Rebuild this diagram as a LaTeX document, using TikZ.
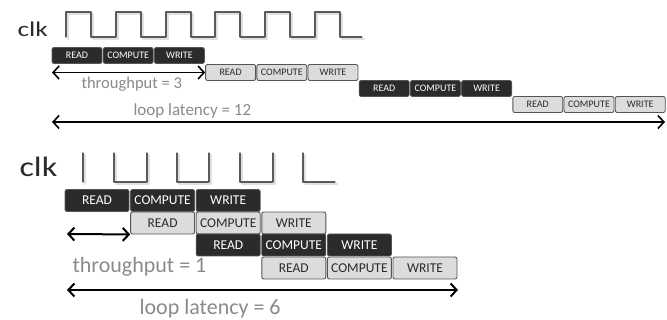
\documentclass[tikz,border=0pt]{standalone}
\usepackage{fontspec}
\setmainfont{Carlito}
\usetikzlibrary{arrows.meta}
\definecolor{boxdark}{HTML}{2B2B2B}
\definecolor{boxlight}{HTML}{DCDCDC}
\definecolor{edgegray}{HTML}{555555}
\definecolor{labelgray}{HTML}{8A8A8A}
\definecolor{clkgray}{HTML}{5A5A5A}
\tikzset{
	rd/.style={draw=edgegray, fill=boxdark, text=white, rounded corners=2pt, line width=0.8pt, inner sep=0pt},
	lt/.style={draw=edgegray, fill=boxlight, text=boxdark, rounded corners=2pt, line width=0.9pt, inner sep=0pt},
	small/.style={minimum width=50pt, minimum height=16pt, font=\fontsize{10}{10}\selectfont},
	big/.style={minimum width=64pt, minimum height=22pt, font=\fontsize{13.5}{13.5}\selectfont},
	wave/.style={draw=clkgray, line width=1.3pt},
	shade/.style={draw=black!12, line width=2.5pt},
	span/.style={<->, line width=1.6pt, >={Straight Barb[length=6pt, width=13pt]}}
}
\begin{document}
\begin{tikzpicture}[x=1pt, y=-1pt, line join = round, line cap = round]
	\useasboundingbox (0,0) rectangle (667,320);
	% top: one loop after another
	\node[text=boxdark, anchor=base west, font=\fontsize{21}{21}\selectfont] (clkA) at (14,37) {\scalebox{1.3}[1]{clk}};
	\draw[shade] (68,39) -- (68,14) -- (93,14) -- (93,39) -- (118,39) -- (118,14) -- (143,14) -- (143,39) -- (168,39) -- (168,14) -- (193,14) -- (193,39) -- (217,39) -- (217,14) -- (242,14) -- (242,39) -- (267,39) -- (267,14) -- (292,14) -- (292,39) -- (317,39) -- (317,14) -- (342,14) -- (342,39) -- (364,39);
	\draw[wave] (66,37) -- (66,12) -- (91,12) -- (91,37) -- (116,37) -- (116,12) -- (141,12) -- (141,37) -- (166,37) -- (166,12) -- (191,12) -- (191,37) -- (215,37) -- (215,12) -- (240,12) -- (240,37) -- (265,37) -- (265,12) -- (290,12) -- (290,37) -- (315,37) -- (315,12) -- (340,12) -- (340,37) -- (362,37);
	
	\node[rd, small] (TR1) at (77,55.5) {READ};
	\node[rd, small] (TC1) at (128.2,55.5) {COMPUTE};
	\node[rd, small] (TW1) at (179.4,55.5) {WRITE};
	\node[lt, small] (TR2) at (230.6,72.5) {READ};
	\node[lt, small] (TC2) at (281.8,72.5) {COMPUTE};
	\node[lt, small] (TW2) at (333,72.5) {WRITE};
	\node[rd, small] (TR3) at (384.2,88.5) {READ};
	\node[rd, small] (TC3) at (435.4,88.5) {COMPUTE};
	\node[rd, small] (TW3) at (486.6,88.5) {WRITE};
	\node[lt, small] (TR4) at (537.8,104.5) {READ};
	\node[lt, small] (TC4) at (589,104.5) {COMPUTE};
	\node[lt, small] (TW4) at (640.2,104.5) {WRITE};
	
	\coordinate (tpA) at (52,72.5);
	\coordinate (llA) at (52,122);
	\coordinate (llB) at (665,122);
	\draw[span] (tpA) -- (TR2.west);
	\draw[span] (llA) -- (llB);
	\node[text=labelgray, anchor=base west, font=\fontsize{16.5}{16.5}\selectfont] (tpTextA) at (78,89) {throughput = 3};
	\node[text=labelgray, anchor=base west, font=\fontsize{17}{17}\selectfont] (llTextA) at (130,116) {loop latency = 12};
	
	% bottom: pipelined loop
	\node[text=boxdark, anchor=base west, font=\fontsize{28}{28}\selectfont] (clkB) at (16,177) {\scalebox{1.22}[1]{clk}};
	\draw[shade] (85,155) -- (85,184);
	\draw[shade] (116,155) -- (116,184) -- (149,184) -- (149,155);
	\draw[shade] (179,155) -- (179,184) -- (211,184) -- (211,155);
	\draw[shade] (242,155) -- (242,184) -- (275,184) -- (275,155);
	\draw[shade] (305,155) -- (305,184) -- (337,184);
	\draw[wave] (83,153) -- (83,182);
	\draw[wave] (114,153) -- (114,182) -- (147,182) -- (147,153);
	\draw[wave] (177,153) -- (177,182) -- (209,182) -- (209,153);
	\draw[wave] (240,153) -- (240,182) -- (273,182) -- (273,153);
	\draw[wave] (303,153) -- (303,182) -- (335,182);
	
	\node[rd, big] (BR1) at (97,200.5) {READ};
	\node[rd, big] (BC1) at (162.6,200.5) {COMPUTE};
	\node[rd, big] (BW1) at (228.2,200.5) {WRITE};
	\node[lt, big] (BR2) at (162.6,223) {READ};
	\node[lt, big] (BC2) at (228.2,223) {COMPUTE};
	\node[lt, big] (BW2) at (293.8,223) {WRITE};
	\node[rd, big] (BR3) at (228.2,245) {READ};
	\node[rd, big] (BC3) at (293.8,245) {COMPUTE};
	\node[rd, big] (BW3) at (359.4,245) {WRITE};
	\node[lt, big] (BR4) at (293.8,268) {READ};
	\node[lt, big] (BC4) at (359.4,268) {COMPUTE};
	\node[lt, big] (BW4) at (425,268) {WRITE};
	
	\coordinate (tpB) at (67,234);
	\coordinate (llC) at (67,290);
	\coordinate (llD) at (458,290);
	\draw[span, line width=2pt] (tpB) -- (BR2.south west);
	\draw[span, line width=2pt] (llC) -- (llD);
	\node[text=labelgray, anchor=base west, font=\fontsize{22}{22}\selectfont] (tpTextB) at (69,273) {throughput = 1};
	\node[text=labelgray, anchor=base west, font=\fontsize{22}{22}\selectfont] (llTextB) at (136,315) {loop latency = 6};
	
\end{tikzpicture}
\end{document}
